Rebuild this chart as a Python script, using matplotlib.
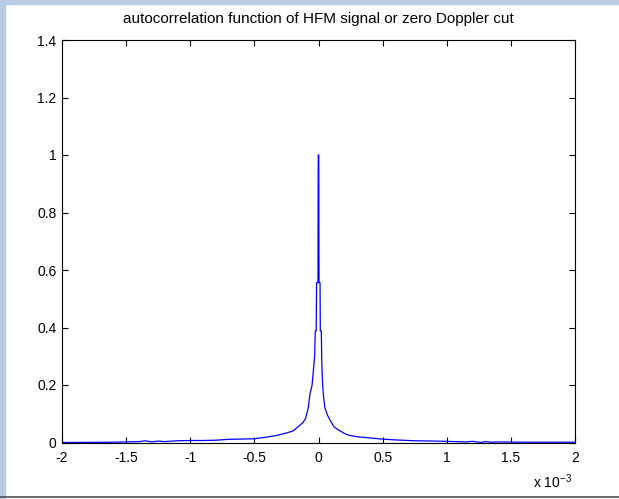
import matplotlib.pyplot as plt
from matplotlib.patches import Rectangle
from matplotlib.lines import Line2D
from matplotlib.ticker import FormatStrFormatter

plt.rcParams['font.family'] = ['Liberation Sans', 'DejaVu Sans']

# задержка (в единицах 1e-3 с) и нормированная автокорреляция
delay_ms = [-2.0, -1.6, -1.4, -1.35, -1.3, -1.25, -1.2, -1.1, -1.0, -0.9, -0.8,
            -0.7, -0.6, -0.5, -0.4, -0.32, -0.25, -0.2, -0.15, -0.12, -0.1,
            -0.08, -0.066, -0.05, -0.04, -0.03, -0.025, -0.018, -0.015,
            -0.004, -0.002, 0.002, 0.004, 0.012, 0.014, 0.022, 0.025, 0.03,
            0.037, 0.05, 0.07, 0.09, 0.12, 0.15, 0.2, 0.23, 0.3, 0.4, 0.49,
            0.6, 0.75, 0.9, 1.0, 1.15, 1.2, 1.27, 1.3, 1.35, 1.4, 1.6, 2.0]
acf = [0.0, 0.001, 0.003, 0.006, 0.002, 0.005, 0.003, 0.006, 0.007, 0.007,
       0.008, 0.011, 0.012, 0.013, 0.019, 0.025, 0.033, 0.04, 0.058, 0.07,
       0.085, 0.12, 0.17, 0.2, 0.25, 0.3, 0.388, 0.388, 0.556,
       0.556, 1.0, 1.0, 0.556, 0.556, 0.388, 0.388, 0.29, 0.22,
       0.17, 0.12, 0.095, 0.078, 0.055, 0.045, 0.032, 0.026, 0.02, 0.016, 0.012,
       0.009, 0.006, 0.005, 0.004, 0.002, 0.004, 0.0, 0.003, 0.001, 0.002, 0.001, 0.001]

fig = plt.figure(figsize=(6.19, 4.99), dpi=100)

# рамка окна
fig.patches.append(Rectangle((0, 1 - 4/499), 1, 4/499, transform=fig.transFigure,
                             color='#b8cce4', zorder=0))
fig.patches.append(Rectangle((0, 0), 5/619, 1, transform=fig.transFigure,
                             color='#b8cce4', zorder=0))
fig.lines.append(Line2D([0, 1], [2/499, 2/499], transform=fig.transFigure,
                        color='#505050', lw=1.2))

ax = fig.add_axes([62/619, 1 - 442.5/499, 513/619, 402.5/499])
ax.plot(delay_ms, acf, color='#0000ff', lw=0.9)

ax.set_xlim(-2, 2)
ax.set_ylim(0, 1.4)
ax.set_xticks([-2, -1.5, -1, -0.5, 0, 0.5, 1, 1.5, 2])
ax.set_yticks([0, 0.2, 0.4, 0.6, 0.8, 1, 1.2, 1.4])
ax.xaxis.set_major_formatter(FormatStrFormatter('%g'))
ax.yaxis.set_major_formatter(FormatStrFormatter('%g'))
ax.tick_params(direction='in', length=4, width=0.8, top=True, right=True,
               labelsize=10)
ax.tick_params(axis='x', pad=6)
ax.tick_params(axis='y', pad=4)
for s in ax.spines.values():
    s.set_linewidth(0.8)
ax.set_title('autocorrelation function of HFM signal or zero Doppler cut',
             fontsize=11, pad=12)
ax.text(0.995, -0.075, r'x 10$^{\mathregular{-3}}$', transform=ax.transAxes,
        ha='right', va='top', fontsize=10)

plt.savefig('out.png', dpi=100)
